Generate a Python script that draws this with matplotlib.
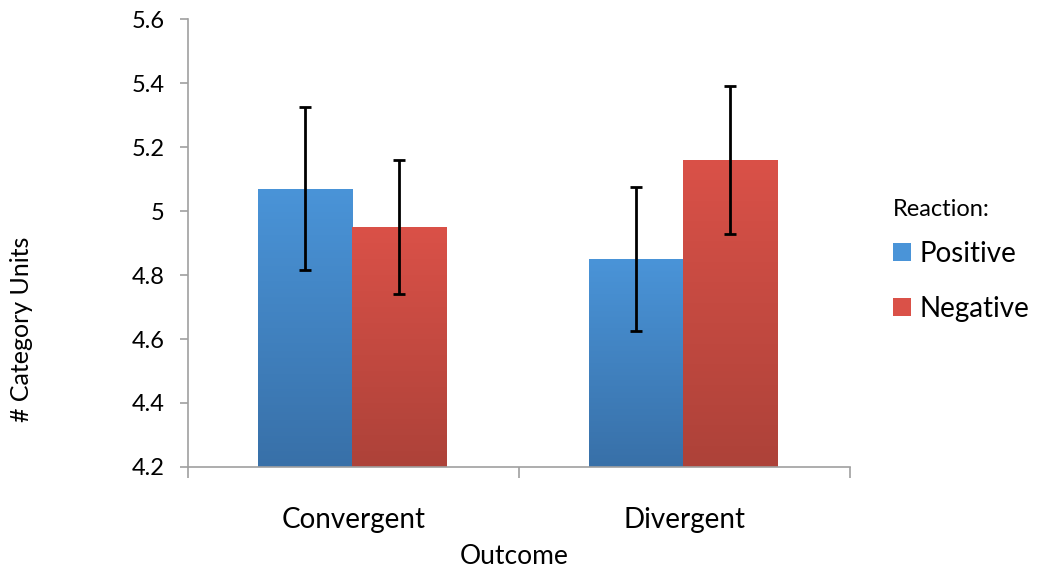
import matplotlib
matplotlib.use("Agg")
import matplotlib.pyplot as plt
import numpy as np
from matplotlib.patches import Patch
from matplotlib.colors import LinearSegmentedColormap

categories = ["Convergent", "Divergent"]
series_names = ["Positive", "Negative"]
positive_vals = [5.07, 4.85]
negative_vals = [4.95, 5.16]
positive_err = [0.255, 0.224]
negative_err = [0.21, 0.232]
yticks = [4.2, 4.4, 4.6, 4.8, 5.0, 5.2, 5.4, 5.6]
ytick_labels = ["4.2", "4.4", "4.6", "4.8", "5", "5.2", "5.4", "5.6"]

plt.rcParams['font.family'] = ['Lato', 'DejaVu Sans']

fig = plt.figure(figsize=(10.37, 5.73), dpi=100)
ax = fig.add_axes([0.1813, 0.185, 0.6384, 0.7818])

x = np.arange(len(categories))
w = 0.284
grads = [("#4A94D8", "#3870A8"), ("#DA5148", "#AD4239")]
vals = [positive_vals, negative_vals]
errs = [positive_err, negative_err]
offsets = [-w / 2, w / 2]
ymin = 4.2
for i in range(2):
    bars = ax.bar(x + offsets[i] - 0.005, [v - ymin for v in vals[i]], w, bottom=ymin,
                  color=grads[i][0], edgecolor='none', zorder=2)
    cmap = LinearSegmentedColormap.from_list("g%d" % i, [grads[i][1], grads[i][0]])
    for b in bars:
        x0, y0 = b.get_x(), b.get_y()
        bw, bh = b.get_width(), b.get_height()
        grad = np.linspace(0, 1, 256).reshape(-1, 1)
        im = ax.imshow(grad, extent=[x0, x0 + bw, y0, y0 + bh], origin='lower',
                       aspect='auto', cmap=cmap, zorder=2.1)
        im.set_clip_path(b)
    ax.errorbar(x + offsets[i] - 0.005, vals[i], yerr=errs[i], fmt='none', ecolor='black',
                elinewidth=2, capsize=4.5, capthick=2, zorder=3)

ax.set_xlim(-0.5, 1.5)
ax.set_ylim(4.2, 5.6)
ax.set_yticks(yticks)
ax.set_yticklabels(ytick_labels, fontsize=17)
ax.set_xticks(x)
ax.set_xticklabels(categories, fontsize=20)
ax.set_xticks([-0.5, 0.5, 1.5], minor=True)
ax.tick_params(axis='x', which='major', length=0, pad=29)
ax.tick_params(axis='x', which='minor', length=8, color='#a0a0a0', width=1.2)
ax.tick_params(axis='y', length=6, color='#a0a0a0', width=1.2, pad=11)
for s in ['top', 'right']:
    ax.spines[s].set_visible(False)
for s in ['left', 'bottom']:
    ax.spines[s].set_color('#a0a0a0')
    ax.spines[s].set_linewidth(1.2)

fig.text(514.5 / 1037, 1 - 556 / 573, "Outcome", fontsize=19, ha='center', va='center')
fig.text(22 / 1037, 1 - 329 / 573, "# Category Units", rotation=90, fontsize=18,
         ha='center', va='center')

handles = [Patch(facecolor=grads[0][0], edgecolor='none'),
           Patch(facecolor=grads[1][0], edgecolor='none')]
leg = fig.legend(handles, series_names, loc='upper left',
                 bbox_to_anchor=(0.861, 0.652), frameon=False, fontsize=20,
                 title="Reaction:", title_fontsize=17, handlelength=0.65,
                 handleheight=0.65, handletextpad=0.3, labelspacing=1.05,
                 borderpad=0, borderaxespad=0)
leg._legend_box.align = "left"
leg._legend_box.sep = 14.5

fig.savefig("out.png", dpi=100)
